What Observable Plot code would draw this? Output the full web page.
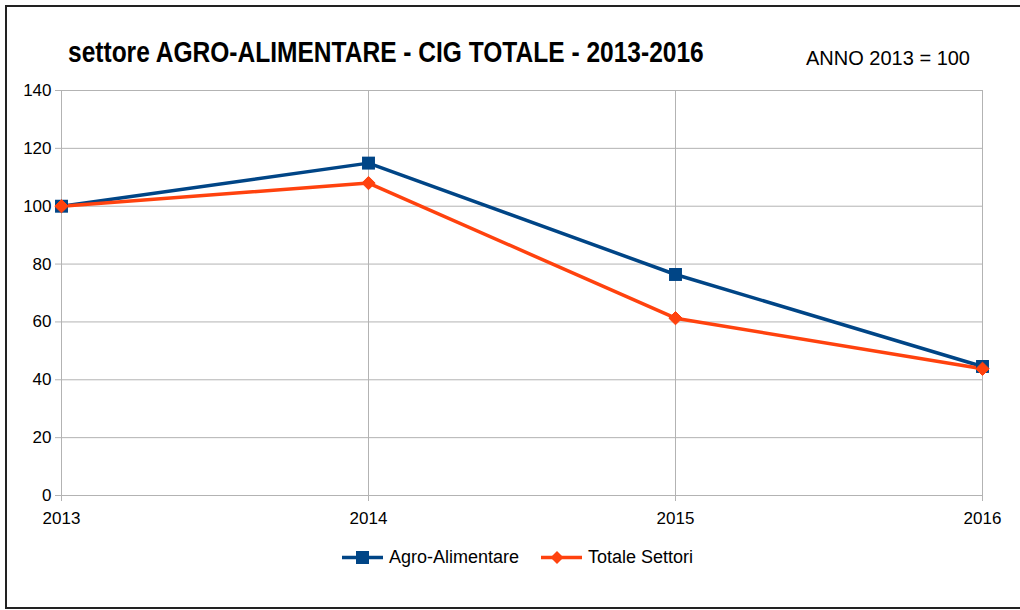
<!DOCTYPE html>
<html>
<head>
<meta charset="utf-8">
<script src="https://cdn.jsdelivr.net/npm/d3@7"></script>
<script src="https://cdn.jsdelivr.net/npm/@observablehq/plot@0.6"></script>
<style>
  html, body { margin: 0; padding: 0; background: #fff; }
  body { width: 1020px; height: 610px; position: relative; overflow: hidden; font-family: "Liberation Sans", Arial, sans-serif; }
  #frame { position: absolute; left: 5px; top: 5px; width: 1030px; height: 600px; border: 2px solid #222; box-sizing: content-box; }
  #chart { position: absolute; left: 0; top: 0; }
  #title { position: absolute; left: 68px; top: 36px; font-family: "Liberation Sans", Arial, sans-serif; font-weight: bold; font-size: 29px; color: #000; white-space: nowrap; transform: scaleX(0.846); transform-origin: 0 0; }
  #note { position: absolute; left: 806px; top: 47px; font-family: "Liberation Sans", Arial, sans-serif; font-size: 20px; color: #000; white-space: nowrap; }
  #legend { position: absolute; left: 342px; top: 546px; font-size: 18px; color: #000; white-space: nowrap; }
  #legend .item { position: absolute; top: 0; display: flex; align-items: center; }
  #legend svg { margin-right: 6px; }
</style>
</head>
<body>
<div id="frame"></div>
<div id="chart"></div>
<div id="title"></div>
<div id="note"></div>
<div id="legend"></div>
<script>
const titleText = "settore AGRO-ALIMENTARE - CIG TOTALE - 2013-2016";
const noteText = "ANNO 2013 = 100";
const years = [2013, 2014, 2015, 2016];
const seriesNames = ["Agro-Alimentare", "Totale Settori"];
const agroValues = [100, 114.9, 76.4, 44.6];
const totaleValues = [100, 108.0, 61.3, 43.8];
const yTicks = [0, 20, 40, 60, 80, 100, 120, 140];
const colors = ["#004586", "#ff420e"];
const symbols = ["square", "diamond2"];

const data = [];
years.forEach((y, i) => data.push({year: y, value: agroValues[i], series: seriesNames[0]}));
years.forEach((y, i) => data.push({year: y, value: totaleValues[i], series: seriesNames[1]}));

document.getElementById("title").textContent = titleText;
document.getElementById("note").textContent = noteText;

const plot = Plot.plot({
  width: 1020,
  height: 610,
  marginLeft: 61,
  marginRight: 38,
  marginTop: 90,
  marginBottom: 115,
  style: { fontFamily: "Liberation Sans, Arial, sans-serif", fontSize: "17px", color: "#000", background: "transparent", overflow: "visible" },
  x: { type: "linear", domain: [years[0], years[years.length - 1]], ticks: years, tickFormat: d => String(d), label: null },
  y: { domain: [0, 140], ticks: yTicks, label: null },
  color: { domain: seriesNames, range: colors },
  symbol: { domain: seriesNames, range: symbols },
  marks: [
    Plot.gridX(years, { stroke: "#b3b3b3", strokeOpacity: 1, strokeWidth: 1 }),
    Plot.gridY(yTicks, { stroke: "#b3b3b3", strokeOpacity: 1, strokeWidth: 1 }),
    Plot.axisX({ ticks: years, tickFormat: d => String(d), stroke: "#b3b3b3", tickSize: 6, tickPadding: 10, fontSize: 17, fill: "#000" }),
    Plot.axisY({ ticks: yTicks, stroke: "#b3b3b3", tickSize: 6, tickPadding: 4, fontSize: 17, fill: "#000" }),
    Plot.line(data, { x: "year", y: "value", stroke: "series", z: "series", strokeWidth: 3.5 }),
    Plot.dot(data.filter(d => d.series === seriesNames[0]), { x: "year", y: "value", symbol: "series", fill: "series", stroke: "none", r: 7.3 }),
    Plot.dot(data.filter(d => d.series === seriesNames[1]), { x: "year", y: "value", symbol: "series", fill: "series", stroke: "series", strokeWidth: 1, r: 6 })
  ]
});
document.getElementById("chart").appendChild(plot);

// legend
const legend = document.getElementById("legend");
const legendLeft = [0, 199];
seriesNames.forEach((name, i) => {
  const item = document.createElement("div");
  item.className = "item";
  item.style.left = legendLeft[i] + "px";
  const sym = i === 0
    ? `<rect x="14" y="5" width="13" height="13" fill="${colors[i]}"/>`
    : `<path d="M16 5 L22.5 11.5 L16 18 L9.5 11.5 Z" fill="${colors[i]}"/>`;
  const w = 41;
  item.innerHTML = `<svg width="${w}" height="23"><line x1="0" x2="${w}" y1="11.5" y2="11.5" stroke="${colors[i]}" stroke-width="3.5"/>${sym}</svg><span>${name}</span>`;
  legend.appendChild(item);
});
</script>
</body>
</html>
